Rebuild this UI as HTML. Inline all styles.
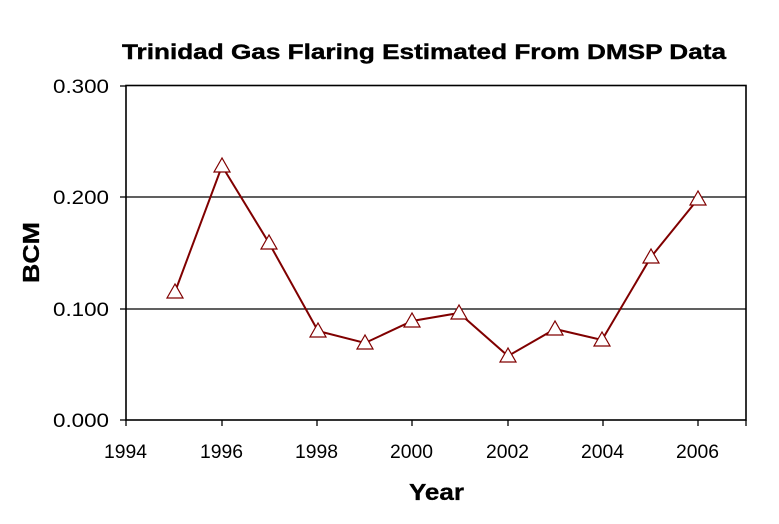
<!DOCTYPE html>
<html><head><meta charset="utf-8"><style>
body{margin:0;background:#fff;}
svg{display:block;font-family:"Liberation Sans",Arial,sans-serif;}
</style></head><body>
<svg width="779" height="524" viewBox="0 0 779 524" xmlns="http://www.w3.org/2000/svg">
<rect width="779" height="524" fill="#fff"/>
<text x="424" y="59" font-size="21" font-weight="bold" text-anchor="middle" stroke="#000" stroke-width="0.4" textLength="604" lengthAdjust="spacingAndGlyphs">Trinidad Gas Flaring Estimated From DMSP Data</text>
<line x1="126" y1="197" x2="746" y2="197" stroke="#000" stroke-width="1.2"/>
<line x1="126" y1="309" x2="746" y2="309" stroke="#000" stroke-width="1.2"/>
<rect x="126" y="85.5" width="620" height="334.5" fill="none" stroke="#000" stroke-width="1.6"/>
<g stroke="#000" stroke-width="1.3">
<line x1="120" y1="86" x2="126" y2="86"/><line x1="120" y1="197" x2="126" y2="197"/><line x1="120" y1="309" x2="126" y2="309"/><line x1="120" y1="420" x2="126" y2="420"/>
<line x1="126" y1="420" x2="126" y2="426"/><line x1="222" y1="420" x2="222" y2="426"/><line x1="317" y1="420" x2="317" y2="426"/><line x1="412" y1="420" x2="412" y2="426"/><line x1="508" y1="420" x2="508" y2="426"/><line x1="603" y1="420" x2="603" y2="426"/><line x1="698" y1="420" x2="698" y2="426"/><line x1="746" y1="420" x2="746" y2="426"/>
</g>
<g font-size="19" text-anchor="end">
<text x="109" y="93" textLength="56" lengthAdjust="spacingAndGlyphs">0.300</text><text x="109" y="204" textLength="56" lengthAdjust="spacingAndGlyphs">0.200</text><text x="109" y="316" textLength="56" lengthAdjust="spacingAndGlyphs">0.100</text><text x="109" y="427" textLength="56" lengthAdjust="spacingAndGlyphs">0.000</text>
</g>
<g font-size="19">
<text x="104" y="458" textLength="43" lengthAdjust="spacingAndGlyphs">1994</text><text x="200" y="458" textLength="43" lengthAdjust="spacingAndGlyphs">1996</text><text x="295" y="458" textLength="43" lengthAdjust="spacingAndGlyphs">1998</text><text x="390" y="458" textLength="43" lengthAdjust="spacingAndGlyphs">2000</text><text x="486" y="458" textLength="43" lengthAdjust="spacingAndGlyphs">2002</text><text x="581" y="458" textLength="43" lengthAdjust="spacingAndGlyphs">2004</text><text x="676" y="458" textLength="43" lengthAdjust="spacingAndGlyphs">2006</text>
</g>
<text x="409" y="500" font-size="23" font-weight="bold" stroke="#000" stroke-width="0.3" textLength="55" lengthAdjust="spacingAndGlyphs">Year</text>
<text transform="translate(39,283) rotate(-90)" font-size="23" font-weight="bold" stroke="#000" stroke-width="0.3" textLength="61" lengthAdjust="spacingAndGlyphs">BCM</text>
<polyline fill="none" stroke="#800000" stroke-width="2" points="175,292 222,166 269,243 318,331 365,343 412,321 459,313 508,356 555,329 602,340 651,257 698,199"/>
<g fill="#fff" stroke="#800000" stroke-width="1.2">
<path d="M175,284 l-8,14 h16 z"/><path d="M222,158 l-8,14 h16 z"/><path d="M269,235 l-8,14 h16 z"/><path d="M318,323 l-8,14 h16 z"/><path d="M365,335 l-8,14 h16 z"/><path d="M412,313 l-8,14 h16 z"/><path d="M459,305 l-8,14 h16 z"/><path d="M508,348 l-8,14 h16 z"/><path d="M555,321 l-8,14 h16 z"/><path d="M602,332 l-8,14 h16 z"/><path d="M651,249 l-8,14 h16 z"/><path d="M698,191 l-8,14 h16 z"/>
</g>
</svg>
</body></html>
